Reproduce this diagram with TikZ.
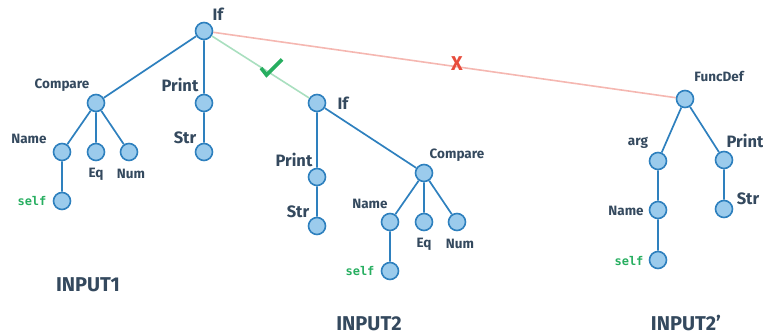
\documentclass[tikz,border=0pt]{standalone}
\usepackage{fontspec}
\setmainfont{Fira Sans}
\setmonofont{DejaVu Sans Mono}
\definecolor{nodefill}{HTML}{9BCBEC}
\definecolor{nodeline}{HTML}{2E80BE}
\definecolor{labelcol}{HTML}{34495E}
\definecolor{okgreen}{HTML}{27AE60}
\definecolor{oklight}{HTML}{A9DFBF}
\definecolor{badred}{HTML}{E74C3C}
\definecolor{badlight}{HTML}{F5B7B1}
\begin{document}
\begin{tikzpicture}[x=1pt,y=-1pt,
  astnode/.style={circle,draw=nodeline,fill=nodefill,line width=1.6pt,minimum size=17pt,inner sep=0pt},
  edge/.style={draw=nodeline,line width=1.7pt},
  big/.style={text=labelcol,font=\fontsize{16.5}{16.5}\selectfont\bfseries,inner sep=0pt},
  small/.style={text=labelcol,font=\fontsize{13.5}{13.5}\selectfont\bfseries,inner sep=0pt},
  code/.style={text=okgreen,font=\fontsize{12}{12}\selectfont\ttfamily\bfseries,inner sep=0pt},
  title/.style={text=labelcol,font=\fontsize{20}{20}\selectfont\bfseries,inner sep=0pt,
    anchor=base,text depth=0pt}]
\useasboundingbox (0,0) rectangle (763,336);

% match links from the first tree's root
\node[astnode] (r1) at (204,31) {};
\node[astnode] (r2) at (317,103) {};
\node[astnode] (fd) at (685,99) {};
\draw[draw=oklight,line width=1.6pt] (r1) -- (r2);
\draw[draw=badlight,line width=1.6pt] (r1) -- (fd);
\draw[okgreen,line width=3.6pt] (261,68) -- (266.5,75) -- (282,59.5);
\node[text=badred,font=\fontsize{20}{20}\selectfont\bfseries,inner sep=0pt] (cross) at (457,64) {X};

% INPUT1
\node[astnode] (c1) at (96,103) {};
\node[astnode] (p1) at (204,103) {};
\node[astnode] (n1) at (62,152) {};
\node[astnode] (e1) at (96,152) {};
\node[astnode] (m1) at (129,152) {};
\node[astnode] (s1) at (204,152) {};
\node[astnode] (f1) at (62,201) {};
\draw[edge] (r1) -- (c1) (r1) -- (p1) (c1) -- (n1) (c1) -- (e1) (c1) -- (m1)
  (p1) -- (s1) (n1) -- (f1);
\node[big] (lr1) at (218,14) {If};
\node[small] (lc1) at (62,85) {Compare};
\node[big] (lp1) at (180,85) {Print};
\node[small] (ln1) at (29,139) {Name};
\node[small] (le1) at (96,174) {Eq};
\node[small] (lm1) at (131,174) {Num};
\node[big] (ls1) at (185,138) {Str};
\node[code] (lf1) at (32,201) {self};
\node[title] (t1) at (88,292) {INPUT1};

% INPUT2
\node[astnode] (p2) at (317,177) {};
\node[astnode] (s2) at (317,226) {};
\node[astnode] (c2) at (424,173) {};
\node[astnode] (n2) at (390,222) {};
\node[astnode] (e2) at (424,222) {};
\node[astnode] (m2) at (457,222) {};
\node[astnode] (f2) at (390,271) {};
\draw[edge] (r2) -- (p2) (p2) -- (s2) (r2) -- (c2) (c2) -- (n2) (c2) -- (e2)
  (c2) -- (m2) (n2) -- (f2);
\node[big] (lr2) at (343,103) {If};
\node[big] (lp2) at (294,160) {Print};
\node[big] (ls2) at (298,212) {Str};
\node[small] (lc2) at (457,155) {Compare};
\node[small] (ln2) at (370,204) {Name};
\node[small] (le2) at (424,244) {Eq};
\node[small] (lm2) at (460,244) {Num};
\node[code] (lf2) at (360,271) {self};
\node[title] (t2) at (369,331) {INPUT2};

% INPUT2'
\node[astnode] (a3) at (658,161) {};
\node[astnode] (p3) at (724,160) {};
\node[astnode] (n3) at (658,210) {};
\node[astnode] (f3) at (658,260) {};
\node[astnode] (s3) at (724,209) {};
\draw[edge] (fd) -- (a3) (fd) -- (p3) (a3) -- (n3) (n3) -- (f3) (p3) -- (s3);
\node[small] (lfd) at (719,76) {FuncDef};
\node[small] (la3) at (638,143) {arg};
\node[big] (lp3) at (745,141) {Print};
\node[small] (ln3) at (626,211) {Name};
\node[code] (lf3) at (629,261) {self};
\node[big] (ls3) at (748,199) {Str};
\node[title] (t3) at (686,331) {INPUT2’};
\end{tikzpicture}
\end{document}
